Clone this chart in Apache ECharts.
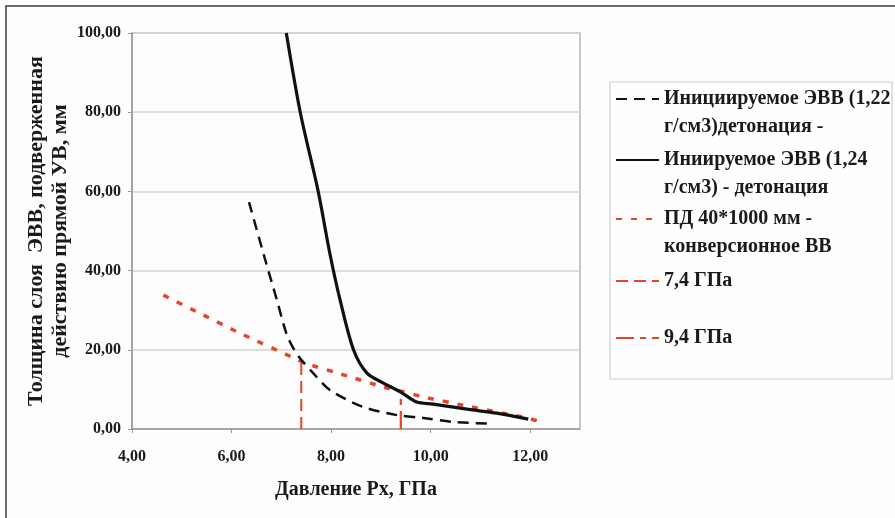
<!DOCTYPE html>
<html>
<head>
<meta charset="utf-8">
<script src="https://cdn.jsdelivr.net/npm/echarts@6/dist/echarts.min.js"></script>
<style>html,body{margin:0;padding:0;background:#fff;}#c{width:895px;height:518px;}</style>
</head>
<body>
<div id="c"></div>
<script>
// ---- data ----
const seriesNames = [
  'Инициируемое ЭВВ (1,22\nг/см3)детонация -',
  'Иниируемое ЭВВ (1,24\nг/см3) - детонация',
  'ПД 40*1000 мм -\nконверсионное ВВ',
  '7,4 ГПа',
  '9,4 ГПа'
];
const xDash = [6.35, 6.67, 6.91, 7.10, 7.24, 7.40, 7.64, 7.98, 8.64, 9.33, 9.85, 10.45, 11.26];
const yDash = [57.3, 43.0, 32.6, 24.2, 20.4, 17.5, 14.1, 9.8, 5.6, 3.5, 2.8, 1.8, 1.3];
const xSolid = [7.10, 7.38, 7.74, 7.98, 8.18, 8.45, 8.72, 9.05, 9.39, 9.72, 10.05, 10.73, 11.33, 11.96];
const ySolid = [100, 80, 60, 44, 32.6, 20, 14.1, 11.6, 9.4, 6.8, 6.3, 5.0, 4.0, 2.5];
const xRed = [4.63, 5.43, 6.17, 7.24, 7.48, 8.32, 9.05, 9.45, 9.85, 10.65, 11.45, 11.94, 12.2];
const yRed = [33.8, 28.8, 24.2, 18.0, 16.6, 13.4, 10.6, 9.4, 8.1, 6.0, 4.0, 2.8, 1.8];
const x74 = [7.4, 7.4];
const y74 = [0, 17.3];
const x94 = [9.4, 9.4];
const y94 = [0, 9.3];
const xTicks = [4, 6, 8, 10, 12];
const yTicks = [0, 20, 40, 60, 80, 100];

const zip = (xs, ys) => xs.map((x, i) => [x, ys[i]]);
const fmt = v => v.toFixed(2).replace('.', ',');
const FONT = '"Liberation Serif", "Times New Roman", serif';
const RED = '#e5452b';

const chart = echarts.init(document.getElementById('c'), null, {renderer: 'canvas'});

function legendAt(idx, top) {
  return {
    data: [seriesNames[idx]],
    left: 615, top: top, padding: 0,
    itemWidth: 43, itemHeight: 14,
    selectedMode: false,
    itemStyle: {opacity: 0, color: 'transparent', borderWidth: 0},
    formatter: n => n.indexOf('\n') >= 0 ? ' \n' + n : n,
    textStyle: {fontFamily: FONT, fontWeight: 'bold', fontSize: 20, color: '#1a1a1a', lineHeight: 28}
  };
}

chart.setOption({
  backgroundColor: '#fdfdfd',
  animation: false,
  graphic: [
    {type: 'rect', z: 0, shape: {x: 6, y: 6, width: 1000, height: 1000}, style: {fill: 'none', stroke: '#3a3a3a', lineWidth: 1.5}},
    {type: 'rect', z: 0, shape: {x: 610, y: 82, width: 282, height: 297}, style: {fill: '#fefefe', stroke: '#cfcfcf', lineWidth: 1.2}}
  ],
  legend: [legendAt(0, 57), legendAt(1, 118), legendAt(2, 177), legendAt(3, 267), legendAt(4, 324)],
  grid: {left: 132, top: 33, right: 315, bottom: 89, show: true, borderColor: '#aaa39e', borderWidth: 1.2, backgroundColor: 'transparent'},
  xAxis: {
    type: 'value', min: 4, max: 13, interval: 2,
    name: 'Давление Рх, ГПа', nameLocation: 'middle', nameGap: 51, nameMoveOverlap: false,
    nameTextStyle: {fontFamily: FONT, fontWeight: 'bold', fontSize: 20, color: '#1a1a1a'},
    axisLine: {show: true, lineStyle: {color: '#a0958f', width: 1.5}},
    axisTick: {show: true, length: 4, lineStyle: {color: '#a0958f'}},
    splitLine: {show: false},
    axisLabel: {showMaxLabel: false, margin: 20, formatter: v => xTicks.includes(v) ? fmt(v) : '',
      fontFamily: FONT, fontWeight: 'bold', fontSize: 16, color: '#1a1a1a'}
  },
  yAxis: {
    type: 'value', min: 0, max: 100, interval: 20,
    name: 'Толщина слоя  ЭВВ, подверженная\nдействию прямой УВ, мм', nameLocation: 'middle', nameGap: 60, nameRotate: 90,
    nameMoveOverlap: false,
    nameTextStyle: {fontFamily: FONT, fontWeight: 'bold', fontSize: 22, color: '#1a1a1a', lineHeight: 24},
    axisLine: {show: true, lineStyle: {color: '#a0958f', width: 1.5}},
    axisTick: {show: true, length: 4, lineStyle: {color: '#a0958f'}},
    splitLine: {show: true, lineStyle: {color: '#d6d2cf', width: 1.5}},
    axisLabel: {margin: 11, formatter: v => yTicks.includes(v) ? fmt(v) : '',
      fontFamily: FONT, fontWeight: 'bold', fontSize: 16, color: '#1a1a1a'}
  },
  series: [
    {name: seriesNames[0], type: 'line', data: zip(xDash, yDash), smooth: 0.3, symbol: 'none',
      lineStyle: {color: '#111', width: 2.5, type: [11, 7]}, itemStyle: {color: '#111'}, z: 4},
    {name: seriesNames[1], type: 'line', data: zip(xSolid, ySolid), smooth: 0.3, symbol: 'none',
      lineStyle: {color: '#111', width: 3.2}, itemStyle: {color: '#111'}, z: 5},
    {name: seriesNames[2], type: 'line', data: zip(xRed, yRed), smooth: 0.2, symbol: 'none',
      lineStyle: {color: RED, width: 3.5, type: [6, 9]}, itemStyle: {color: RED}, z: 3},
    {name: seriesNames[3], type: 'line', data: zip(x74, y74), symbol: 'none',
      lineStyle: {color: RED, width: 2, type: [12, 6]}, itemStyle: {color: RED}, z: 2},
    {name: seriesNames[4], type: 'line', data: zip(x94, y94), symbol: 'none',
      lineStyle: {color: RED, width: 2.2, type: [18, 6, 6, 6]}, itemStyle: {color: RED}, z: 2}
  ]
});
</script>
</body>
</html>
